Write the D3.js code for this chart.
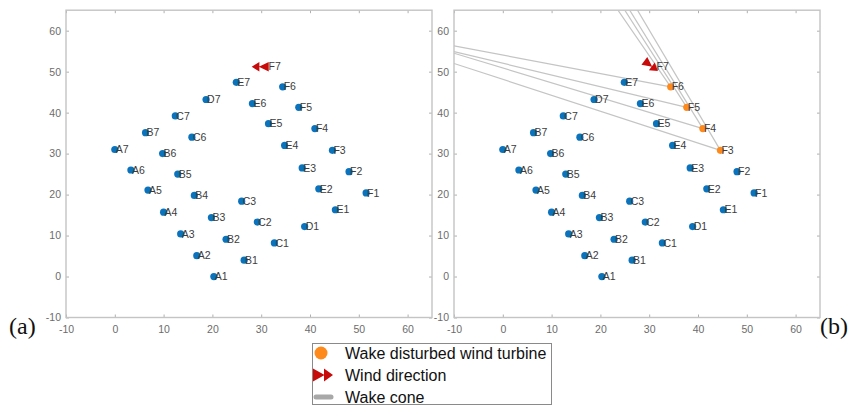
<!DOCTYPE html>
<html>
<head>
<meta charset="utf-8">
<script src="https://cdn.jsdelivr.net/npm/d3@7"></script>
<style>
  body { margin: 0; background: #fff; }
  svg { display: block; }
</style>
</head>
<body>
<svg id="chart" width="852" height="406"></svg>
<script>
// Turbine layout (metres / 10), labelled by row letter and column number
const turbineNames = ["A1","A2","A3","A4","A5","A6","A7",
                      "B1","B2","B3","B4","B5","B6","B7",
                      "C1","C2","C3","C6","C7",
                      "D1","D7",
                      "E1","E2","E3","E4","E5","E6","E7",
                      "F1","F2","F3","F4","F5","F6","F7"];
const turbineX = [20.3, 16.8, 13.5, 10.0, 6.8, 3.3, 0.0,
                  26.5, 22.8, 19.8, 16.3, 12.9, 9.8, 6.3,
                  32.7, 29.2, 26.0, 15.8, 12.4,
                  38.9, 18.7,
                  45.2, 41.8, 38.4, 34.8, 31.5, 28.2, 24.9,
                  51.5, 48.0, 44.6, 41.0, 37.7, 34.4, 31.3];
const turbineY = [0.0, 5.1, 10.4, 15.7, 21.1, 26.0, 31.0,
                  4.0, 9.1, 14.4, 19.8, 25.0, 30.0, 35.1,
                  8.2, 13.3, 18.4, 34.0, 39.2,
                  12.2, 43.2,
                  16.3, 21.4, 26.5, 32.0, 37.3, 42.2, 47.4,
                  20.4, 25.6, 30.8, 36.1, 41.3, 46.3, 51.2];

// Turbines inside a wake in panel (b), and where their cone edges leave the axes
const disturbedNames = ["F3", "F4", "F5", "F6"];
const coneLeftY = [52.0, 54.5, 54.9, 56.3];   // outer edge meets x = -10
const coneTopX  = [27.6, 26.0, 25.0, 23.6];   // inner edge meets y = 65

// Wind-direction marker per panel (position and heading in degrees)
const windX   = [29.8, 30.4];
const windY   = [51.2, 51.4];
const windDeg = [180, -42];

const axisTicks = [-10, 0, 10, 20, 30, 40, 50, 60];
const axisDomain = [-10, 65];
const panelTags = ["(a)", "(b)"];
const legendLabels = ["Wake disturbed wind turbine", "Wind direction", "Wake cone"];

const BLUE = "#0b72bd", ORANGE = "#ff8a1c", RED = "#c90a0a", CONE = "#c4c4c4";

const svg = d3.select("#chart");
svg.append("rect").attr("width", 852).attr("height", 406).attr("fill", "#fff");

const panels = [
  { x0: 66, x1: 432 },
  { x0: 454, x1: 820 }
];
const yTop = 10.2, yBottom = 317.5;

// Double-headed (fletched) arrow pointing along +x, centred on the origin
function arrowPath(len, half) {
  const h = len / 2;
  return `M${h},0 L${0.05 * len},${-half} L${0.05 * len},${half} Z ` +
         `M${0.08 * len},0 L${-h},${-half} L${-h},${half} Z`;
}

const plainNumber = d => String(d);

panels.forEach((p, i) => {
  const x = d3.scaleLinear().domain(axisDomain).range([p.x0, p.x1]);
  const y = d3.scaleLinear().domain(axisDomain).range([yBottom, yTop]);
  const g = svg.append("g");

  const clipId = "clip" + i;
  svg.append("clipPath").attr("id", clipId).append("rect")
    .attr("x", p.x0).attr("y", yTop).attr("width", p.x1 - p.x0).attr("height", yBottom - yTop);

  // axes: labelled bottom/left, tick-only top/right
  const styleAxis = sel => {
    sel.select(".domain").remove();
    sel.selectAll(".tick line").attr("stroke", "#b0b0b0").attr("stroke-width", 1);
    sel.selectAll(".tick text").attr("fill", "#6c6c6c")
      .attr("font-family", "Liberation Sans, Arial, sans-serif").attr("font-size", 10.5);
  };
  g.append("g").attr("transform", `translate(0,${yBottom})`)
    .call(d3.axisBottom(x).tickValues(axisTicks).tickFormat(plainNumber).tickSize(-3).tickPadding(8))
    .call(styleAxis);
  g.append("g").attr("transform", `translate(${p.x0},0)`)
    .call(d3.axisLeft(y).tickValues(axisTicks).tickFormat(plainNumber).tickSize(-3).tickPadding(5))
    .call(styleAxis);
  g.append("g").attr("transform", `translate(0,${yTop})`)
    .call(d3.axisTop(x).tickValues(axisTicks).tickSize(-3).tickFormat(""))
    .call(styleAxis);
  g.append("g").attr("transform", `translate(${p.x1},0)`)
    .call(d3.axisRight(y).tickValues(axisTicks).tickSize(-3).tickFormat(""))
    .call(styleAxis);

  g.append("rect")
    .attr("x", p.x0).attr("y", yTop)
    .attr("width", p.x1 - p.x0).attr("height", yBottom - yTop)
    .attr("fill", "none").attr("stroke", "#c4c4c4").attr("stroke-width", 1.4);

  const plot = g.append("g").attr("clip-path", `url(#${clipId})`);

  // wake cones (panel b only)
  if (i === 1) {
    disturbedNames.forEach((name, k) => {
      const idx = turbineNames.indexOf(name);
      const tx = turbineX[idx], ty = turbineY[idx];
      plot.append("line")
        .attr("x1", x(tx)).attr("y1", y(ty))
        .attr("x2", x(axisDomain[0])).attr("y2", y(coneLeftY[k]))
        .attr("stroke", CONE).attr("stroke-width", 1.2);
      plot.append("line")
        .attr("x1", x(tx)).attr("y1", y(ty))
        .attr("x2", x(coneTopX[k])).attr("y2", y(axisDomain[1]))
        .attr("stroke", CONE).attr("stroke-width", 1.2);
    });
  }

  // turbines (F7 carries the wind marker instead of a dot)
  const rows = turbineNames.map((n, k) => ({ name: n, x: turbineX[k], y: turbineY[k] }));
  plot.selectAll("circle.turbine")
    .data(rows.filter(d => d.name !== "F7"))
    .join("circle")
    .attr("class", "turbine")
    .attr("cx", d => x(d.x)).attr("cy", d => y(d.y)).attr("r", 3.6)
    .attr("fill", d => (i === 1 && disturbedNames.includes(d.name)) ? ORANGE : BLUE);

  // wind direction marker
  const rad = windDeg[i] * Math.PI / 180;
  const ang = Math.atan2(y(Math.sin(rad)) - y(0), x(Math.cos(rad)) - x(0)) * 180 / Math.PI;
  plot.append("path")
    .attr("d", arrowPath(17, 4.8))
    .attr("transform", `translate(${x(windX[i])},${y(windY[i])}) rotate(${ang})`)
    .attr("fill", RED);

  // turbine labels
  plot.selectAll("text.name")
    .data(rows)
    .join("text")
    .attr("class", "name")
    .attr("x", d => x(d.x) + 1)
    .attr("y", d => y(d.y))
    .attr("dy", "0.35em")
    .attr("fill", "#3c3c3c")
    .attr("font-family", "Liberation Sans, Arial, sans-serif")
    .attr("font-size", 10.5)
    .text(d => d.name);
});

// panel tags
svg.selectAll("text.tag")
  .data(panelTags)
  .join("text")
  .attr("class", "tag")
  .attr("x", (d, i) => i === 0 ? 9 : 820)
  .attr("y", 334)
  .attr("font-family", "Liberation Serif, 'Times New Roman', serif")
  .attr("font-size", 24)
  .attr("fill", "#111")
  .text(d => d);

// legend
const lg = svg.append("g");
lg.append("rect").attr("x", 312.5).attr("y", 343.5).attr("width", 239).attr("height", 61)
  .attr("fill", "#fff").attr("stroke", "#8a8a8a").attr("stroke-width", 1);
const rowY = [353, 375, 397];
lg.append("circle").attr("cx", 321).attr("cy", rowY[0]).attr("r", 6.5).attr("fill", ORANGE);
lg.append("path").attr("d", arrowPath(20, 6.5))
  .attr("transform", `translate(323,${rowY[1]})`).attr("fill", RED);
lg.append("line").attr("x1", 316).attr("x2", 331).attr("y1", rowY[2]).attr("y2", rowY[2])
  .attr("stroke", "#a8a8a8").attr("stroke-width", 5).attr("stroke-linecap", "round");
lg.selectAll("text")
  .data(legendLabels)
  .join("text")
  .attr("x", 345)
  .attr("y", (d, k) => rowY[k])
  .attr("dy", "0.35em")
  .attr("font-family", "Liberation Sans, Arial, sans-serif")
  .attr("font-size", 16)
  .attr("fill", "#111")
  .text(d => d);
</script>
</body>
</html>
